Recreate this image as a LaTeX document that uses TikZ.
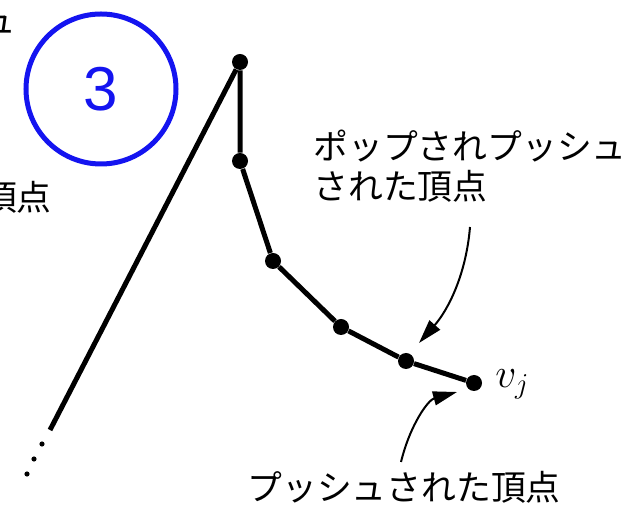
\documentclass[tikz,border=0pt]{standalone}
\usepackage{fontspec}
\newfontfamily\jpfont{Noto Sans CJK JP}
\newfontfamily\numfont{Liberation Sans}
\usepackage{xcolor}
\usetikzlibrary{arrows.meta}
\definecolor{circblue}{RGB}{20,20,240}

\begin{document}
\begin{tikzpicture}[x=0.5pt,y=-0.5pt,
  vert/.style={circle, fill=black, inner sep=0pt, minimum size=8pt},
  tinydot/.style={circle, fill=black, inner sep=0pt, minimum size=2.6pt},
  chain/.style={line width=2.5pt, line join=round},
  pointer/.style={line width=1pt, -{Triangle[length=12pt,width=7pt]}},
  jtext/.style={font=\jpfont\fontsize{17.4}{20}\selectfont, inner sep=0pt, align=left}]
\useasboundingbox (0,0) rectangle (636,506);
\clip (0,0) rectangle (636,506);

% Labels cut off at the left edge
\node[jtext, anchor=base east] (lefttop) at (17,34) {ュ};
\node[jtext, anchor=base east] (leftlow) at (52,211) {頂点};

% Circled number
\node[draw=circblue, line width=2.5pt, circle, minimum size=75pt, inner sep=0pt,
  text=circblue, font=\numfont\fontsize{31}{31}\selectfont] (num) at (101,89) {3};

% Vertices of the chain
\node[vert] (v0) at (240,62) {};
\node[vert] (v1) at (240,161) {};
\node[vert] (v2) at (273,261) {};
\node[vert] (v3) at (341,327) {};
\node[vert] (v4) at (406,361) {};
\node[vert] (vj) at (474,383) {};
\node[anchor=west, inner sep=0pt, font=\fontsize{20}{20}\selectfont] (vjlab) at (495,384) {$v_j$};

\draw[chain] (v0) -- (v1) -- (v2) -- (v3) -- (v4) -- (vj);

% Long edge going down-left, then dots
\coordinate (tail) at (50,430);
\draw[chain] (v0) -- (tail);
\node[tinydot] (d1) at (42,444) {};
\node[tinydot] (d2) at (34,459) {};
\node[tinydot] (d3) at (27,474) {};

% Text labels
\node[jtext, anchor=west] (poplab) at (313,166) {ポップされプッシュ\\された頂点};
\node[jtext] (pushlab) at (404,487) {プッシュされた頂点};

% Arrows to the chain
\coordinate (p1s) at (470,227);
\coordinate (p1e) at (419,343);
\draw[pointer] (p1s) .. controls (466,275) and (448,310) .. (p1e);
\coordinate (p2s) at (401,462);
\coordinate (p2e) at (457,392);
\draw[pointer] (p2s) .. controls (410,425) and (428,400) .. (p2e);
\end{tikzpicture}
\end{document}
